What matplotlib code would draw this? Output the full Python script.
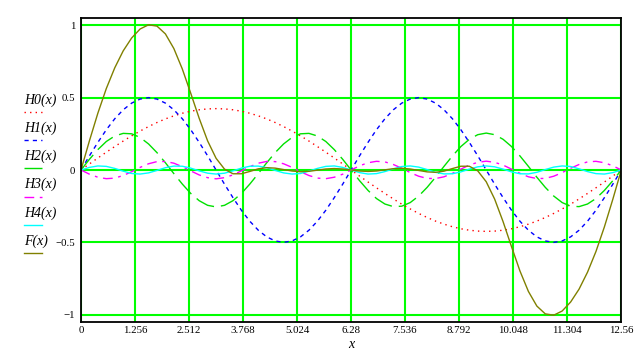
import matplotlib
matplotlib.use("Agg")
import matplotlib.pyplot as plt
from matplotlib.lines import Line2D
import numpy as np

# sample positions: 0 .. 4*pi, 65 points
x = np.linspace(0, 4 * np.pi, 65)

H0 = [0, .042, .083, .123, .162, .200, .236, .269, .300, .328, .353, .374, .392, .406, .416, .422,
      .424, .422, .416, .406, .392, .374, .353, .328, .300, .269, .236, .200, .162, .123, .083, .042, 0,
      -.042, -.083, -.123, -.162, -.200, -.236, -.269, -.300, -.328, -.353, -.374, -.392, -.406, -.416,
      -.422, -.424, -.422, -.416, -.406, -.392, -.374, -.353, -.328, -.300, -.269, -.236, -.200, -.162,
      -.123, -.083, -.042, 0]
H1 = [0, .098, .191, .278, .354, .416, .462, .490, .500, .490, .462, .416, .354, .278, .191, .098,
      0, -.098, -.191, -.278, -.354, -.416, -.462, -.490, -.500, -.490, -.462, -.416, -.354, -.278, -.191, -.098,
      0, .098, .191, .278, .354, .416, .462, .490, .500, .490, .462, .416, .354, .278, .191, .098,
      0, -.098, -.191, -.278, -.354, -.416, -.462, -.490, -.500, -.490, -.462, -.416, -.354, -.278, -.191, -.098, 0]
H2 = [0, .074, .141, .197, .235, .253, .250, .225, .180, .120, .050, -.025, -.097, -.162, -.212, -.244,
      -.255, -.244, -.212, -.162, -.097, -.025, .050, .120, .180, .225, .250, .253, .235, .197, .141, .074,
      0, -.074, -.141, -.197, -.235, -.253, -.250, -.225, -.180, -.120, -.050, .025, .097, .162, .212, .244,
      .255, .244, .212, .162, .097, .025, -.050, -.120, -.180, -.225, -.250, -.253, -.235, -.197, -.141, -.074, 0]
H3 = [0, -.029, -.050, -.060, -.056, -.038, -.012, .018, .043, .058, .059, .047, .023, -.006, -.034, -.053,
      -.061, -.053, -.034, -.006, .023, .047, .059, .058, .043, .018, -.012, -.038, -.056, -.060, -.050, -.029,
      0, .029, .050, .060, .056, .038, .012, -.018, -.043, -.058, -.059, -.047, -.023, .006, .034, .053,
      .061, .053, .034, .006, -.023, -.047, -.059, -.058, -.043, -.018, .012, .038, .056, .060, .050, .029, 0]
H4 = [0, .018, .028, .025, .011, -.008, -.024, -.028, -.020, -.003, .016, .027, .026, .013, -.006, -.022,
      -.028, -.022, -.006, .013, .026, .027, .016, -.003, -.020, -.028, -.024, -.008, .011, .025, .028, .018,
      0, -.018, -.028, -.025, -.011, .008, .024, .028, .020, .003, -.016, -.027, -.026, -.013, .006, .022,
      .028, .022, .006, -.013, -.026, -.027, -.016, .003, .020, .028, .024, .008, -.011, -.025, -.028, -.018, 0]
F = [0, .202, .393, .563, .706, .823, .912, .974, 1.003, .994, .940, .839, .698, .530, .357, .201,
     .081, .006, -.026, -.026, -.010, .008, .016, .013, .003, -.007, -.012, -.009, -.001, .007, .010, .007,
     0, -.007, -.010, -.007, .001, .009, .012, .007, -.003, -.013, -.016, -.008, .010, .026, .026, -.006,
     -.081, -.201, -.357, -.530, -.698, -.839, -.940, -.994, -1.003, -.974, -.912, -.823, -.706, -.563, -.393, -.202, 0]

xticks = [0, 1.256, 2.512, 3.768, 5.024, 6.28, 7.536, 8.792, 10.048, 11.304, 12.56]
xtick_labels = ["0", "1.256", "2.512", "3.768", "5.024", "6.28", "7.536", "8.792", "10.048", "11.304", "12.56"]
yticks = [-1, -0.5, 0, 0.5, 1]
ytick_labels = ["\u22121", "\u22120.5", "0", "0.5", "1"]

names = ["H0(x)", "H1(x)", "H2(x)", "H3(x)", "H4(x)", "F(x)"]
series = [H0, H1, H2, H3, H4, F]
colors = ["#ff0000", "#0000ff", "#00e000", "#ff00ff", "#00ffff", "#808000"]
styles = [(0, (1, 3)), (0, (3, 3)), (0, (14, 5)), (0, (7, 4, 2, 4)), "-", "-"]

fig = plt.figure(figsize=(6.4, 3.56), dpi=100)
ax = fig.add_axes([81 / 640, 1 - 322 / 356, 540 / 640, 304 / 356])

for xv in xticks:
    ax.axvline(xv, color="#00ff00", lw=1.5, zorder=0)
for yv in yticks:
    ax.axhline(yv, color="#00ff00", lw=1.5, zorder=0)

for y, c, ls in zip(series, colors, styles):
    ax.plot(x, y, color=c, linestyle=ls, lw=1.0)

ax.set_xlim(0, 12.56)
ax.set_ylim(-1.05, 1.05)
ax.set_xticks(xticks)
ax.set_xticklabels(xtick_labels, family="Liberation Serif", fontsize=7.8)
ax.set_yticks(yticks)
ax.set_yticklabels(ytick_labels, family="Liberation Serif", fontsize=7.8)
ax.tick_params(axis="x", length=0, pad=3)
ax.tick_params(axis="y", length=0, pad=4)
for s in ax.spines.values():
    s.set_linewidth(1.3)
fig.text(351 / 640, 1 - 345 / 356, "x", family="Liberation Serif", style="italic",
         fontsize=10, ha="center", va="center")

# legend on the left, label over a short line sample
for i, (n, c, ls) in enumerate(zip(names, colors, styles)):
    ty = 1 - (100 + 28.2 * i) / 356
    ly = 1 - (112 + 28.2 * i) / 356
    fig.text(24 / 640, ty, n, family="Liberation Serif", style="italic", fontsize=10, va="center")
    fig.add_artist(Line2D([24 / 640, 42 / 640], [ly, ly], color=c, linestyle=ls, lw=1.0))

fig.savefig("out.png", dpi=100)
